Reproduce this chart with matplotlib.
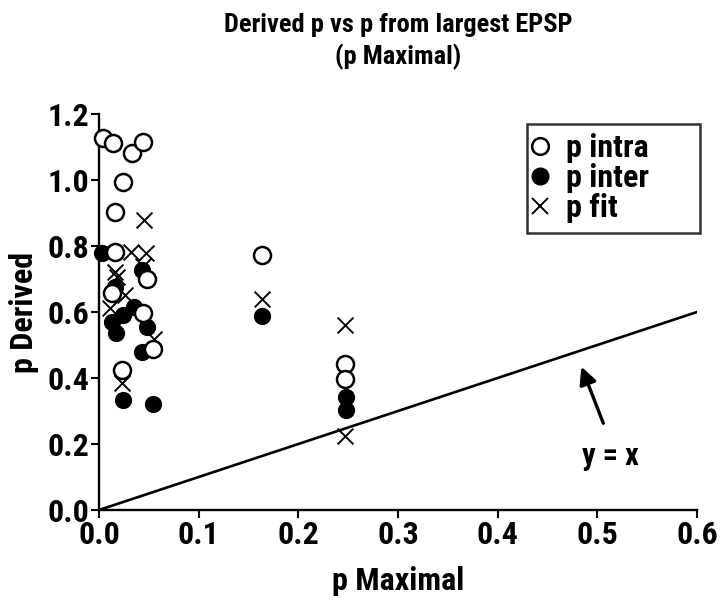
import matplotlib
matplotlib.use("Agg")
import matplotlib.pyplot as plt
from matplotlib.lines import Line2D

plt.rcParams['font.family'] = ['Roboto Condensed', 'DejaVu Sans']
plt.rcParams['font.weight'] = 'bold'

# p intra (open circles)
intra_x = [0.004, 0.014, 0.033, 0.0445, 0.024, 0.016, 0.016, 0.013, 0.048, 0.0445, 0.0545, 0.023, 0.1635, 0.247, 0.247]
intra_y = [1.126, 1.111, 1.081, 1.116, 0.995, 0.904, 0.783, 0.657, 0.699, 0.598, 0.487, 0.424, 0.773, 0.441, 0.396]

# p inter (filled circles)
inter_x = [0.003, 0.016, 0.0127, 0.017, 0.0244, 0.0351, 0.0479, 0.0428, 0.0428, 0.0238, 0.0545, 0.1635, 0.248, 0.248]
inter_y = [0.778, 0.677, 0.571, 0.537, 0.591, 0.616, 0.556, 0.480, 0.727, 0.333, 0.321, 0.588, 0.343, 0.303]

# p fit (crosses)
fit_x = [0.0452, 0.032, 0.047, 0.016, 0.018, 0.026, 0.011, 0.044, 0.055, 0.0228, 0.1635, 0.2468, 0.2468]
fit_y = [0.879, 0.783, 0.778, 0.722, 0.705, 0.652, 0.611, 0.740, 0.517, 0.384, 0.638, 0.561, 0.225]

line_x = [0.0, 0.6]
line_y = [0.0, 0.6]

fig = plt.figure(figsize=(7.2, 6.02), dpi=100)
ax = fig.add_axes([99/720, 1 - 510/602, (697-99)/720, (510-114)/602])

ax.plot(line_x, line_y, color='black', lw=1.9, zorder=1)

ax.scatter(fit_x, fit_y, marker='x', s=130, color='black', linewidths=1.4, zorder=2, clip_on=False)
ax.scatter(inter_x, inter_y, marker='o', s=130, facecolor='black', edgecolor='black', linewidths=1.0, zorder=3, clip_on=False)
ax.scatter(intra_x, intra_y, marker='o', s=150, facecolor='white', edgecolor='black', linewidths=1.8, zorder=4, clip_on=False)

ax.set_xlim(0, 0.6)
ax.set_ylim(0, 1.2)
ax.set_xticks([0.0, 0.1, 0.2, 0.3, 0.4, 0.5, 0.6])
ax.set_yticks([0.0, 0.2, 0.4, 0.6, 0.8, 1.0, 1.2])
ax.set_xticklabels(['0.0', '0.1', '0.2', '0.3', '0.4', '0.5', '0.6'])
ax.set_yticklabels(['0.0', '0.2', '0.4', '0.6', '0.8', '1.0', '1.2'])
ax.spines['top'].set_visible(False)
ax.spines['right'].set_visible(False)
for s in ['left', 'bottom']:
    ax.spines[s].set_linewidth(1.7)
ax.tick_params(direction='out', length=6, width=1.5, labelsize=23, pad=1)
for lab in ax.get_xticklabels() + ax.get_yticklabels():
    lab.set_fontweight('bold')

ax.set_xlabel('p Maximal', fontsize=23, fontweight='bold', labelpad=12)
ax.set_ylabel('p Derived', fontsize=23, fontweight='bold', labelpad=6)

fig.text(398/720, 1 - 25/602, 'Derived p vs p from largest EPSP', ha='center', va='center', fontsize=19, fontweight='bold')
fig.text(398/720, 1 - 57/602, '(p Maximal)', ha='center', va='center', fontsize=19, fontweight='bold')

handles = [
    Line2D([], [], marker='o', linestyle='none', markersize=12, markerfacecolor='white', markeredgecolor='black', markeredgewidth=1.8),
    Line2D([], [], marker='o', linestyle='none', markersize=12, markerfacecolor='black', markeredgecolor='black'),
    Line2D([], [], marker='x', linestyle='none', markersize=12, color='black', markeredgewidth=1.4),
]
leg = ax.legend(handles, ['p intra', 'p inter', 'p fit'], loc='upper left',
                bbox_to_anchor=(0.716, 0.0, 0.289, 0.975), mode='expand',
                fontsize=23, frameon=True, fancybox=False, handletextpad=0.7, borderpad=0.3,
                labelspacing=0.0, handlelength=0.2, borderaxespad=0)
leg.get_frame().set_edgecolor('black')
leg.get_frame().set_linewidth(1.8)
for t in leg.get_texts():
    t.set_fontweight('bold')

ax.annotate('', xy=(0.483, 0.442), xytext=(0.507, 0.255),
            arrowprops=dict(arrowstyle='-|>', color='black', lw=2.4, mutation_scale=26))
ax.text(0.513, 0.164, 'y = x', ha='center', va='center', fontsize=22, fontweight='bold')

fig.savefig('out.png', dpi=100)
